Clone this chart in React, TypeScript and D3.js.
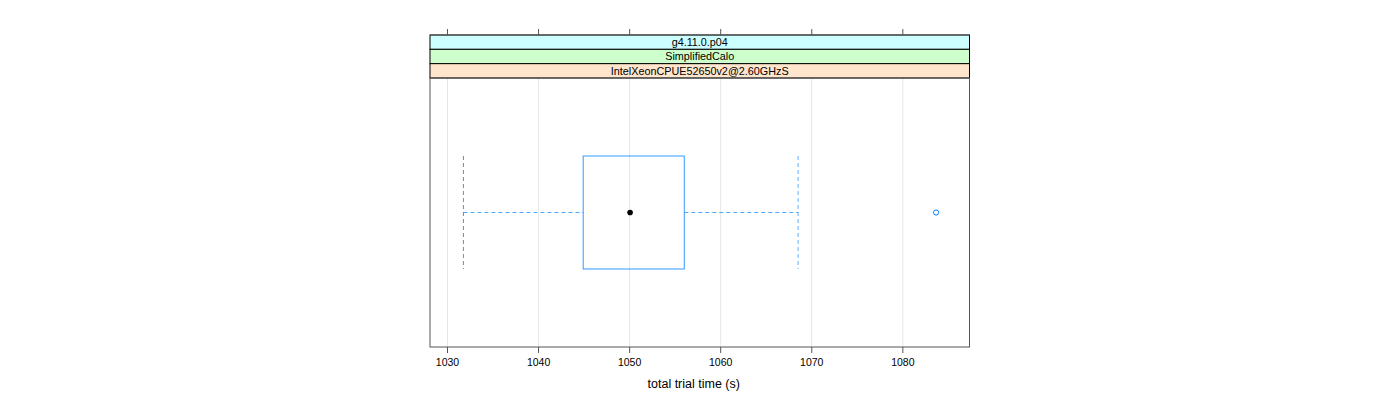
import React from "react";
import * as d3 from "d3";

const stripLabels = ["g4.11.0.p04", "SimplifiedCalo", "IntelXeonCPUE52650v2@2.60GHzS"];
const stripColors = ["#CCFFFF", "#CCFFCC", "#FFE5CC"];
const tickValues = [1030, 1040, 1050, 1060, 1070, 1080];
const categories = ["run"];
const lowerWhisker = [1031.75];
const q1 = [1044.9];
const median = [1050.05];
const q3 = [1056.0];
const upperWhisker = [1068.5];
const outliers = [[1083.65]];
const xDomain = [1028.08, 1087.32];
const xLabel = "total trial time (s)";

export default function App() {
  const W = 1400, H = 400;
  const left = 430, right = 969.5;
  const stripTop = 35, stripH = 14.33;
  const panelTop = stripTop + stripH * stripLabels.length;
  const panelBottom = 347;
  const x = d3.scaleLinear().domain(xDomain).range([left, right]);
  const y = d3.scalePoint().domain(categories).range([panelTop, panelBottom]).padding(0.5);
  const boxH = (panelBottom - panelTop) * 0.42;
  const blue = "#0080ff";
  const font = "'Liberation Sans', Arial, Helvetica, sans-serif";
  return (
    <svg width={W} height={H} style={{ position: "absolute", left: 0, top: 0 }} fontFamily={font}>
      <rect x={0} y={0} width={W} height={H} fill="#fff" />
      {tickValues.map((t) => (
        <line key={"g" + t} x1={x(t)} x2={x(t)} y1={panelTop} y2={panelBottom} stroke="#e6e6e6" strokeWidth={1} />
      ))}
      {stripLabels.map((s, i) => (
        <g key={s}>
          <rect x={left} y={stripTop + i * stripH} width={right - left} height={stripH} fill={stripColors[i]} stroke="#000" strokeWidth={1} />
          <text x={(left + right) / 2} y={stripTop + i * stripH + stripH / 2 + 4} textAnchor="middle" fontSize={10.8} fill="#000">{s}</text>
        </g>
      ))}
      {categories.map((c, i) => {
        const cy = y(c)!;
        return (
          <g key={c}>
            <line x1={x(lowerWhisker[i])} x2={x(q1[i])} y1={cy} y2={cy} stroke={blue} strokeDasharray="4,3" strokeWidth={1} opacity={0.7} />
            <line x1={x(q3[i])} x2={x(upperWhisker[i])} y1={cy} y2={cy} stroke={blue} strokeDasharray="4,3" strokeWidth={1} opacity={0.7} />
            <line x1={x(lowerWhisker[i])} x2={x(lowerWhisker[i])} y1={cy - boxH / 2} y2={cy + boxH / 2} stroke={blue} strokeDasharray="4,3" strokeWidth={1} opacity={0.8} />
            <line x1={x(upperWhisker[i])} x2={x(upperWhisker[i])} y1={cy - boxH / 2} y2={cy + boxH / 2} stroke={blue} strokeDasharray="4,3" strokeWidth={1} opacity={0.6} />
            <rect x={x(q1[i])} y={cy - boxH / 2} width={x(q3[i]) - x(q1[i])} height={boxH} fill="none" stroke={blue} strokeWidth={1} opacity={0.8} />
            <circle cx={x(median[i])} cy={cy} r={2.8} fill="#000" />
            {outliers[i].map((o) => (
              <circle key={o} cx={x(o)} cy={cy} r={2.6} fill="none" stroke={blue} strokeWidth={1} />
            ))}
          </g>
        );
      })}
      <rect x={left} y={panelTop} width={right - left} height={panelBottom - panelTop} fill="none" stroke="#555" strokeWidth={1} />
      <line x1={left} x2={right} y1={stripTop} y2={stripTop} stroke="#555" />
      {tickValues.map((t) => (
        <g key={"t" + t}>
          <line x1={x(t)} x2={x(t)} y1={stripTop - 6} y2={stripTop} stroke="#555" />
          <line x1={x(t)} x2={x(t)} y1={panelBottom} y2={panelBottom + 6} stroke="#555" />
          <text x={x(t)} y={panelBottom + 19} textAnchor="middle" fontSize={10.5} fill="#000">{t}</text>
        </g>
      ))}
      <text x={(left + right) / 2 - 6} y={388} textAnchor="middle" fontSize={12.5} fill="#000">{xLabel}</text>
    </svg>
  );
}
